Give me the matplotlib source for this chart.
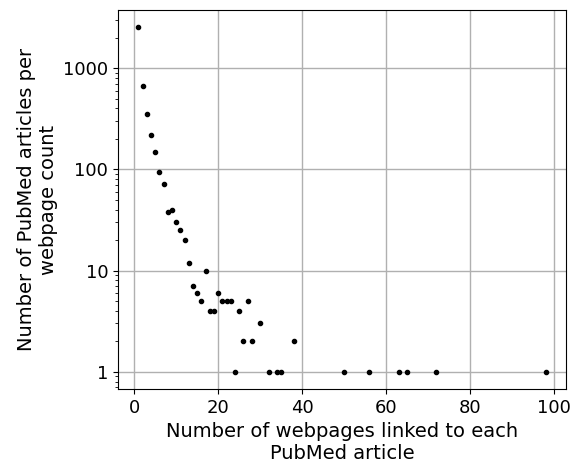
import numpy as np
import matplotlib
matplotlib.use('Agg')
import matplotlib.pyplot as plt
from matplotlib.ticker import FuncFormatter

# number of webpages linked to each article vs. how many articles have that count
n_webpages = [1, 2, 3, 4, 5, 6, 7, 8, 9, 10, 11, 12, 13, 14, 15, 16, 17, 18, 19,
              20, 21, 22, 23, 24, 25, 26, 27, 28, 30, 32, 34, 35, 38, 50, 56, 63,
              65, 72, 98]
n_articles = [2540, 664, 351, 221, 150, 95, 72, 38, 40, 30, 25, 20, 12, 7, 6, 5, 10, 4, 4,
              6, 5, 5, 5, 1, 4, 2, 5, 2, 3, 1, 1, 1, 2, 1, 1, 1,
              1, 1, 1]

plt.rcParams['font.size'] = 13
fig = plt.figure(figsize=(5.72, 4.65), dpi=100)
fig.subplots_adjust(left=118/572, right=566/572, top=1-10/465, bottom=1-389/465)
ax = fig.add_subplot(111)
ax.plot(n_webpages, n_articles, 'k.', markersize=6)
ax.set_yscale('log')
ax.yaxis.set_major_formatter(FuncFormatter(lambda v, p: '%d' % v))
ax.grid(True, which='major', color='#b0b0b0', linewidth=1)
ax.set_axisbelow(True)
ax.set_xlabel('Number of webpages linked to each\nPubMed article', fontsize=14)
ax.set_ylabel('Number of PubMed articles per\nwebpage count', fontsize=14)

fig.savefig('out.png', dpi=100)
